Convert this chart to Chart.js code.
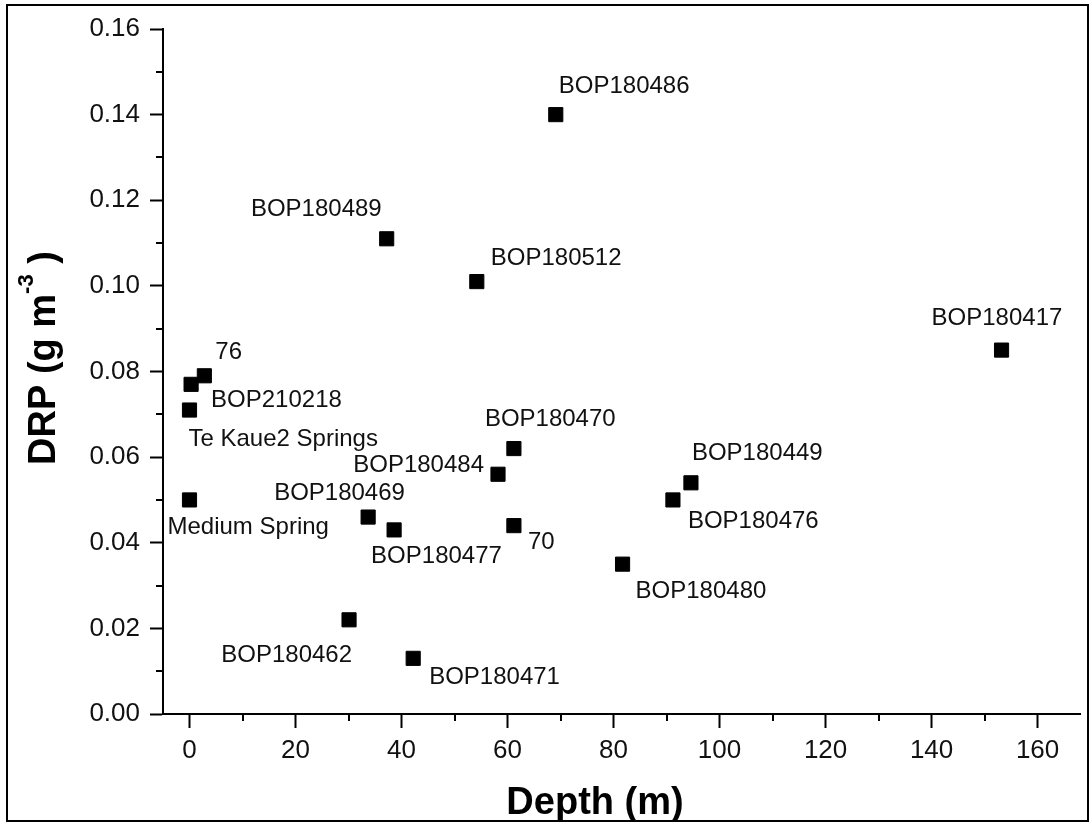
<!DOCTYPE html>
<html>
<head>
<meta charset="utf-8">
<title>DRP vs Depth</title>
<script src="https://cdn.jsdelivr.net/npm/chart.js@4.4.1/dist/chart.umd.min.js"></script>
<style>
  body { margin: 0; background: #fff; }
  canvas { display: block; }
</style>
</head>
<body>
<canvas id="chart" width="1091" height="823"></canvas>
<script>
// data
const wells = ['BOP180486', 'BOP180489', 'BOP180512', 'BOP180417', '76', 'BOP210218',
  'Te Kaue2 Springs', 'Medium Spring', 'BOP180469', 'BOP180477', 'BOP180470', 'BOP180484',
  '70', 'BOP180449', 'BOP180476', 'BOP180480', 'BOP180462', 'BOP180471'];
const depth = [69.1, 37.2, 54.2, 153.2, 2.8, 0.3, 0, 0, 33.7, 38.6, 61.2, 58.2, 61.2, 94.6, 91.2, 81.7, 30.1, 42.2];
const drp = [0.140, 0.111, 0.101, 0.085, 0.079, 0.077, 0.071, 0.050, 0.046, 0.043, 0.062, 0.056, 0.044, 0.054, 0.050, 0.035, 0.022, 0.013];

const xTicks = [0, 20, 40, 60, 80, 100, 120, 140, 160];
const yTicks = [0, 0.02, 0.04, 0.06, 0.08, 0.10, 0.12, 0.14, 0.16];

// where each label sits relative to its marker: [dx, dy to baseline, align]
const labelPlacement = [
  [3, -22, 'left'], [-5, -23, 'right'], [14, -17, 'left'], [-70, -25, 'left'],
  [11, -17, 'left'], [20, 23, 'left'], [-1, 36, 'left'], [-22, 34, 'left'],
  [-94, -17, 'left'], [-23, 33, 'left'], [-29, -23, 'left'], [-14, -2, 'right'],
  [14, 23, 'left'], [1, -23, 'left'], [15, 28, 'left'], [13, 34, 'left'],
  [3, 42, 'right'], [16, 26, 'left']
];

const FONT = '"Liberation Sans", Arial, sans-serif';

const points = depth.map((d, i) => ({ x: d, y: drp[i] }));

// minor ticks halfway between the labelled ones
const minorTicks = {
  id: 'minorTicks',
  afterDraw(chart) {
    const { ctx, scales: { x, y } } = chart;
    ctx.save();
    ctx.strokeStyle = '#000';
    ctx.lineWidth = 2;
    ctx.beginPath();
    for (let i = 0; i < xTicks.length - 1; i++) {
      const px = Math.round(x.getPixelForValue((xTicks[i] + xTicks[i + 1]) / 2));
      ctx.moveTo(px, y.bottom);
      ctx.lineTo(px, y.bottom + 7);
    }
    for (let i = 0; i < yTicks.length - 1; i++) {
      const py = Math.round(y.getPixelForValue((yTicks[i] + yTicks[i + 1]) / 2));
      ctx.moveTo(x.left, py);
      ctx.lineTo(x.left - 7, py);
    }
    ctx.stroke();
    ctx.restore();
  }
};

// well names next to the markers
const pointLabels = {
  id: 'pointLabels',
  afterDatasetsDraw(chart) {
    const { ctx } = chart;
    const meta = chart.getDatasetMeta(0);
    ctx.save();
    ctx.font = '24px ' + FONT;
    ctx.fillStyle = '#111';
    ctx.textBaseline = 'alphabetic';
    meta.data.forEach((pt, i) => {
      const [dx, dy, align] = labelPlacement[i];
      ctx.textAlign = align;
      ctx.fillText(wells[i], pt.x + dx, pt.y + dy);
    });
    ctx.restore();
  }
};

// axis titles and outer frame
const decorations = {
  id: 'decorations',
  afterDraw(chart) {
    const { ctx } = chart;
    ctx.save();
    ctx.fillStyle = '#000';

    ctx.font = 'bold 38px ' + FONT;
    ctx.textAlign = 'center';
    ctx.textBaseline = 'alphabetic';
    ctx.fillText('Depth (m)', 595, 814);

    // DRP (g m^-3 )
    ctx.translate(55, 358);
    ctx.rotate(-Math.PI / 2);
    ctx.textAlign = 'left';
    const big = 'bold 38px ' + FONT, small = 'bold 22px ' + FONT;
    ctx.font = big;
    const a = 'DRP (g m', b = ' )';
    const wa = ctx.measureText(a).width, wb = ctx.measureText(b).width;
    ctx.font = small;
    const ws = ctx.measureText('-3').width;
    let x0 = -(wa + ws + wb) / 2;
    ctx.font = big;
    ctx.fillText(a, x0, 0);
    ctx.font = small;
    ctx.fillText('-3', x0 + wa, -22);
    ctx.font = big;
    ctx.fillText(b, x0 + wa + ws, 0);
    ctx.restore();

    ctx.save();
    ctx.strokeStyle = '#000';
    ctx.lineWidth = 2;
    ctx.strokeRect(7, 5, 1081, 816);
    ctx.restore();
  }
};

new Chart(document.getElementById('chart'), {
  type: 'scatter',
  data: {
    datasets: [{
      data: points,
      pointStyle: 'rect',
      pointRadius: 10,
      pointHoverRadius: 10,
      backgroundColor: '#000',
      borderColor: '#000',
      borderWidth: 1
    }]
  },
  options: {
    responsive: false,
    devicePixelRatio: 1,
    animation: false,
    layout: { padding: { top: 29, right: 8, bottom: 0, left: 0 } },
    plugins: { legend: { display: false }, tooltip: { enabled: false } },
    scales: {
      x: {
        type: 'linear',
        min: -5,
        max: 168,
        afterBuildTicks: s => { s.ticks = xTicks.map(v => ({ value: v })); },
        afterFit: s => { s.height = 109; },
        border: { display: true, color: '#000', width: 2 },
        grid: { display: true, drawOnChartArea: false, drawTicks: true, tickLength: 14, tickWidth: 2, tickColor: '#000' },
        ticks: { autoSkip: false, maxRotation: 0, padding: 7, color: '#111', font: { family: FONT, size: 26 } }
      },
      y: {
        type: 'linear',
        min: 0,
        max: 0.16,
        afterBuildTicks: s => { s.ticks = yTicks.map(v => ({ value: v })); },
        afterFit: s => { s.width = 163; },
        border: { display: true, color: '#000', width: 2 },
        grid: { display: true, drawOnChartArea: false, drawTicks: true, tickLength: 13, tickWidth: 2, tickColor: '#000' },
        ticks: { padding: 10, color: '#111', font: { family: FONT, size: 26 }, callback: v => v.toFixed(2) }
      }
    }
  },
  plugins: [minorTicks, pointLabels, decorations]
});
</script>
</body>
</html>
